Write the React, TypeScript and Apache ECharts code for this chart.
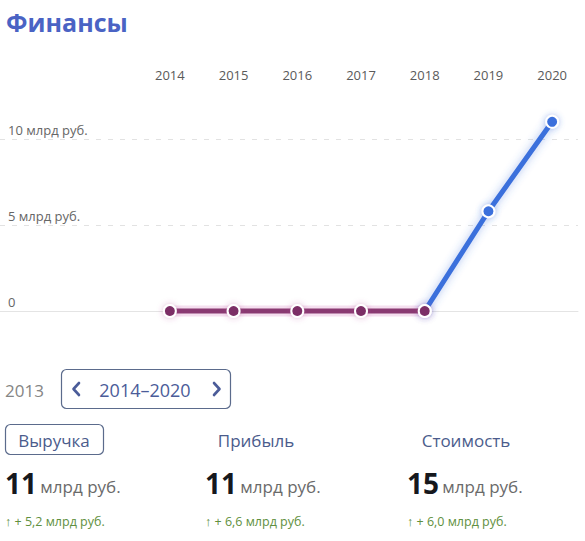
import React, { useEffect, useRef } from "react";
import * as echarts from "echarts";

const years = ["2014", "2015", "2016", "2017", "2018", "2019", "2020"];
const revenue = [0, 0, 0, 0, 0, 5.8, 11];
const splitIndex = 4; // last purple point (2018)
const yMin = 0;
const yMax = 10;
const yInterval = 5;

const rangePrev = "2013";
const rangeLabel = "2014–2020";
const metricNames = ["Выручка", "Прибыль", "Стоимость"];
const metricValues = ["11", "11", "15"];
const metricDeltas = ["5,2", "6,6", "6,0"];
const unit = "млрд руб.";

const PURPLE = "#8a3a72";
const PURPLE_DOT = "#7b2f66";
const BLUE = "#3a6fdc";
const FONT = "'Open Sans', 'Noto Sans', sans-serif";

export default function App() {
  const ref = useRef<HTMLDivElement>(null);
  useEffect(() => {
    if (!ref.current) return;
    const chart = echarts.init(ref.current, null, { renderer: "svg" });

    const purpleData = revenue.map((v, i) => (i <= splitIndex ? v : null));
    const blueData = revenue.map((v, i) => (i >= splitIndex ? v : null));

    const colX = [5, 205, 407];
    const nameX = [54, 256, 466];
    const navColor = "#4b5c99";
    const graphics: any[] = [
      { type: "text", x: 5, y: 390, style: { text: rangePrev, fontSize: 17, fill: "#858585", fontFamily: FONT, verticalAlign: "middle" } },
      { type: "rect", shape: { x: 61.5, y: 369.5, width: 169, height: 39, r: 5 }, style: { fill: "#fff", stroke: "#5b6b8c", lineWidth: 1.2 } },
      { type: "polyline", shape: { points: [[79, 383], [73.5, 389], [79, 395]] }, style: { stroke: navColor, lineWidth: 2.6, fill: null, lineCap: "round", lineJoin: "round" } },
      { type: "polyline", shape: { points: [[214, 383], [219.5, 389], [214, 395]] }, style: { stroke: navColor, lineWidth: 2.6, fill: null, lineCap: "round", lineJoin: "round" } },
      { type: "text", x: 145, y: 390, style: { text: rangeLabel, fontSize: 18, fill: navColor, fontFamily: FONT, align: "center", verticalAlign: "middle" } },
      { type: "rect", shape: { x: 5.5, y: 424.5, width: 98, height: 30, r: 5 }, style: { fill: "#fff", stroke: "#5b6b8c", lineWidth: 1.2 } },
    ];
    metricNames.forEach((n, i) => {
      graphics.push({ type: "text", x: nameX[i], y: 440, style: { text: n, fontSize: 17, fill: "#4b5c8c", fontFamily: FONT, align: "center", verticalAlign: "middle" } });
      graphics.push({
        type: "text", x: colX[i], y: 483,
        style: {
          text: `{v|${metricValues[i]}} {u|${unit}}`,
          verticalAlign: "middle",
          rich: {
            v: { fontSize: 28, fontWeight: "bold", fill: "#16181d", fontFamily: FONT },
            u: { fontSize: 17, fill: "#6a6a6a", fontFamily: FONT, padding: [6, 0, 0, 0] },
          },
        },
      });
      graphics.push({
        type: "text", x: colX[i], y: 521,
        style: { text: `↑ + ${metricDeltas[i]} ${unit}`, fontSize: 12.5, fill: "#5f9040", fontFamily: FONT, verticalAlign: "middle" },
      });
    });

    chart.setOption({
      animation: false,
      title: {
        text: "Финансы",
        left: 1,
        top: 4,
        textStyle: { fontSize: 25, fontWeight: "bold", color: "#4a63c4", fontFamily: FONT },
      },
      grid: [
        { left: 0, right: 7, top: 139, bottom: 230 },
        { left: 138, right: 1, top: 139, bottom: 230 },
      ],
      xAxis: [
        {
          gridIndex: 0, type: "value", min: 0, max: 1,
          axisLine: { show: true, lineStyle: { color: "#e4e4e4", width: 1 } },
          axisTick: { show: false }, axisLabel: { show: false }, splitLine: { show: false },
        },
        {
          gridIndex: 1, type: "category", data: years, position: "top", boundaryGap: true,
          axisLine: { show: false }, axisTick: { show: false }, splitLine: { show: false },
          axisLabel: { margin: 58, color: "#5a5a5a", fontSize: 13, fontFamily: FONT },
        },
      ],
      yAxis: [
        {
          gridIndex: 0, type: "value", min: yMin, max: yMax, interval: yInterval,
          axisLine: { show: false }, axisTick: { show: false },
          splitLine: { show: true, lineStyle: { color: "#e2e2e2", type: [5, 7] } },
          axisLabel: {
            inside: true, margin: 8, align: "left", verticalAlign: "bottom",
            padding: [0, 0, 3, 0], color: "#666", fontSize: 13, fontFamily: FONT,
            formatter: (v: number) => (v === 0 ? "0" : `${v} ${unit}`),
          },
        },
        { gridIndex: 1, type: "value", min: yMin, max: yMax, show: false },
      ],
      series: [
        {
          type: "line", xAxisIndex: 1, yAxisIndex: 1, data: blueData, clip: false,
          symbol: "circle", symbolSize: 12, z: 3,
          lineStyle: { color: BLUE, width: 5, shadowColor: "rgba(58,111,220,0.45)", shadowBlur: 8 },
          itemStyle: { color: BLUE, borderColor: "#fff", borderWidth: 2, shadowColor: "rgba(58,111,220,0.4)", shadowBlur: 6 },
        },
        {
          type: "line", xAxisIndex: 1, yAxisIndex: 1, data: purpleData, clip: false,
          symbol: "none", z: 3, silent: true,
          lineStyle: { color: "rgba(210,110,180,0.22)", width: 11 },
        },
        {
          type: "line", xAxisIndex: 1, yAxisIndex: 1, data: purpleData, clip: false,
          symbol: "circle", symbolSize: 12, z: 4,
          lineStyle: { color: PURPLE, width: 5 },
          itemStyle: { color: PURPLE_DOT, borderColor: "#fff", borderWidth: 2, shadowColor: "rgba(170,60,140,0.35)", shadowBlur: 6 },
        },
      ],
      graphic: graphics,
    });
    return () => chart.dispose();
  }, []);
  return <div ref={ref} style={{ position: "absolute", left: 0, top: 0, width: 585, height: 541, background: "#fff" }} />;
}
